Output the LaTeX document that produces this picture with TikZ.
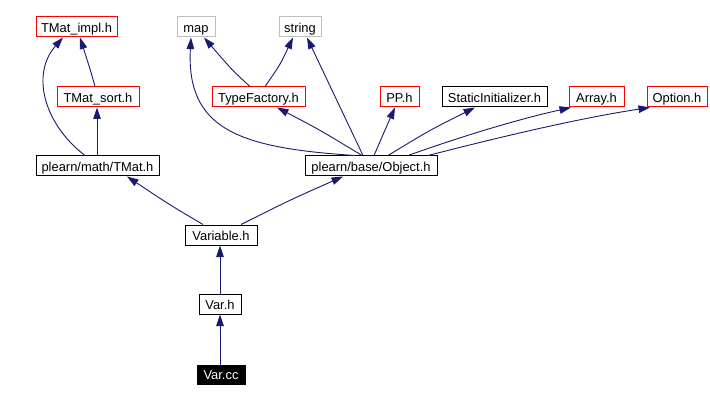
\documentclass[tikz,border=0pt]{standalone}
\usepackage{fontspec}
\setmainfont{Liberation Sans}
\usetikzlibrary{arrows.meta}
\definecolor{edgecol}{HTML}{191970}
\definecolor{grayb}{HTML}{BFBFBF}
\tikzset{
  box/.style={draw, line width=1pt, minimum height=20pt, inner sep=0pt, text height=12pt, text depth=1.5pt, font=\fontsize{12.9pt}{14pt}\selectfont, fill=white},
  redbox/.style={box, draw=red},
  graybox/.style={box, draw=grayb},
  blackbox/.style={box, draw=black},
  filledbox/.style={box, draw=black, fill=black, text=white},
  dep/.style={draw=edgecol, line width=0.9pt, -{Triangle[length=11.5pt,width=7.5pt]}, edgecol}
}
\begin{document}
\begin{tikzpicture}[x=1pt,y=-1pt]
\useasboundingbox[fill=white] (0,0) rectangle (710,401);
% nodes
\node[redbox, minimum width=81pt] (TMatImpl) at (76.5,27) {TMat\_impl.h};
\node[graybox, minimum width=38pt] (map) at (196,27) {map};
\node[graybox, minimum width=42pt] (string) at (300,27) {string};
\node[redbox, minimum width=82pt] (TMatSort) at (98,97) {TMat\_sort.h};
\node[redbox, minimum width=93pt] (TypeFactory) at (258.5,97) {TypeFactory.h};
\node[redbox, minimum width=39pt] (PP) at (399.5,97) {PP.h};
\node[blackbox, minimum width=105pt] (StaticInit) at (494.5,97) {StaticInitializer.h};
\node[redbox, minimum width=55pt] (Array) at (596.5,97) {Array.h};
\node[redbox, minimum width=60pt] (Option) at (677,97) {Option.h};
\node[blackbox, minimum width=123pt] (TMat) at (97.5,166) {plearn/math/TMat.h};
\node[blackbox, minimum width=132pt] (Object) at (371,166) {plearn/base/Object.h};
\node[blackbox, minimum width=72pt] (Variable) at (221,235) {Variable.h};
\node[blackbox, minimum width=42pt] (Varh) at (220,304) {Var.h};
\node[filledbox, minimum width=48pt, minimum height=19pt] (Varcc) at (221,374.5) {Var.cc};
% edges
\draw[dep] ([xshift=-12.5pt]TMat.north) .. controls (45,125) and (30,75) .. ([xshift=-13.5pt]TMatImpl.south);
\draw[dep] ([xshift=-3pt]TMatSort.north) .. controls (91,72) .. ([xshift=3.5pt]TMatImpl.south);
\draw[dep] ([xshift=-0.5pt]TMat.north) -- ([xshift=-0.5pt]TMat.north |- TMatSort.south);
\draw[dep] ([xshift=-8.5pt]TypeFactory.north) .. controls (232,70) .. ([xshift=8pt]map.south);
\draw[dep] ([xshift=6.5pt]TypeFactory.north) .. controls (280,65) .. ([xshift=-7pt]string.south);
\draw[dep] ([xshift=-16pt]Object.north) .. controls (240,148) and (186,130) .. ([xshift=-5pt]map.south);
\draw[dep] ([xshift=-9pt]Object.north) .. controls (320,130) .. ([xshift=18.5pt]TypeFactory.south);
\draw[dep] ([xshift=-8pt]Object.north) -- ([xshift=7pt]string.south);
\draw[dep] ([xshift=3pt]Object.north) .. controls (385,130) .. ([xshift=-4.5pt]PP.south);
\draw[dep] ([xshift=17pt]Object.north) .. controls (430,130) .. ([xshift=-19.5pt]StaticInit.south);
\draw[dep] ([xshift=37pt]Object.north) .. controls (460,137) and (515,120) .. ([xshift=-25.5pt]Array.south);
\draw[dep] ([xshift=57pt]Object.north) .. controls (500,137) and (580,118) .. ([xshift=-27pt]Option.south);
\draw[dep] ([xshift=-18pt]Variable.north) .. controls (170,205) .. ([xshift=29.5pt]TMat.south);
\draw[dep] ([xshift=20pt]Variable.north) .. controls (290,200) .. ([xshift=-28pt]Object.south);
\draw[dep] (Varh.north) -- (Varh.north |- Variable.south);
\draw[dep] ([xshift=-1pt]Varcc.north) -- ([xshift=-1pt]Varcc.north |- Varh.south);
\end{tikzpicture}
\end{document}
